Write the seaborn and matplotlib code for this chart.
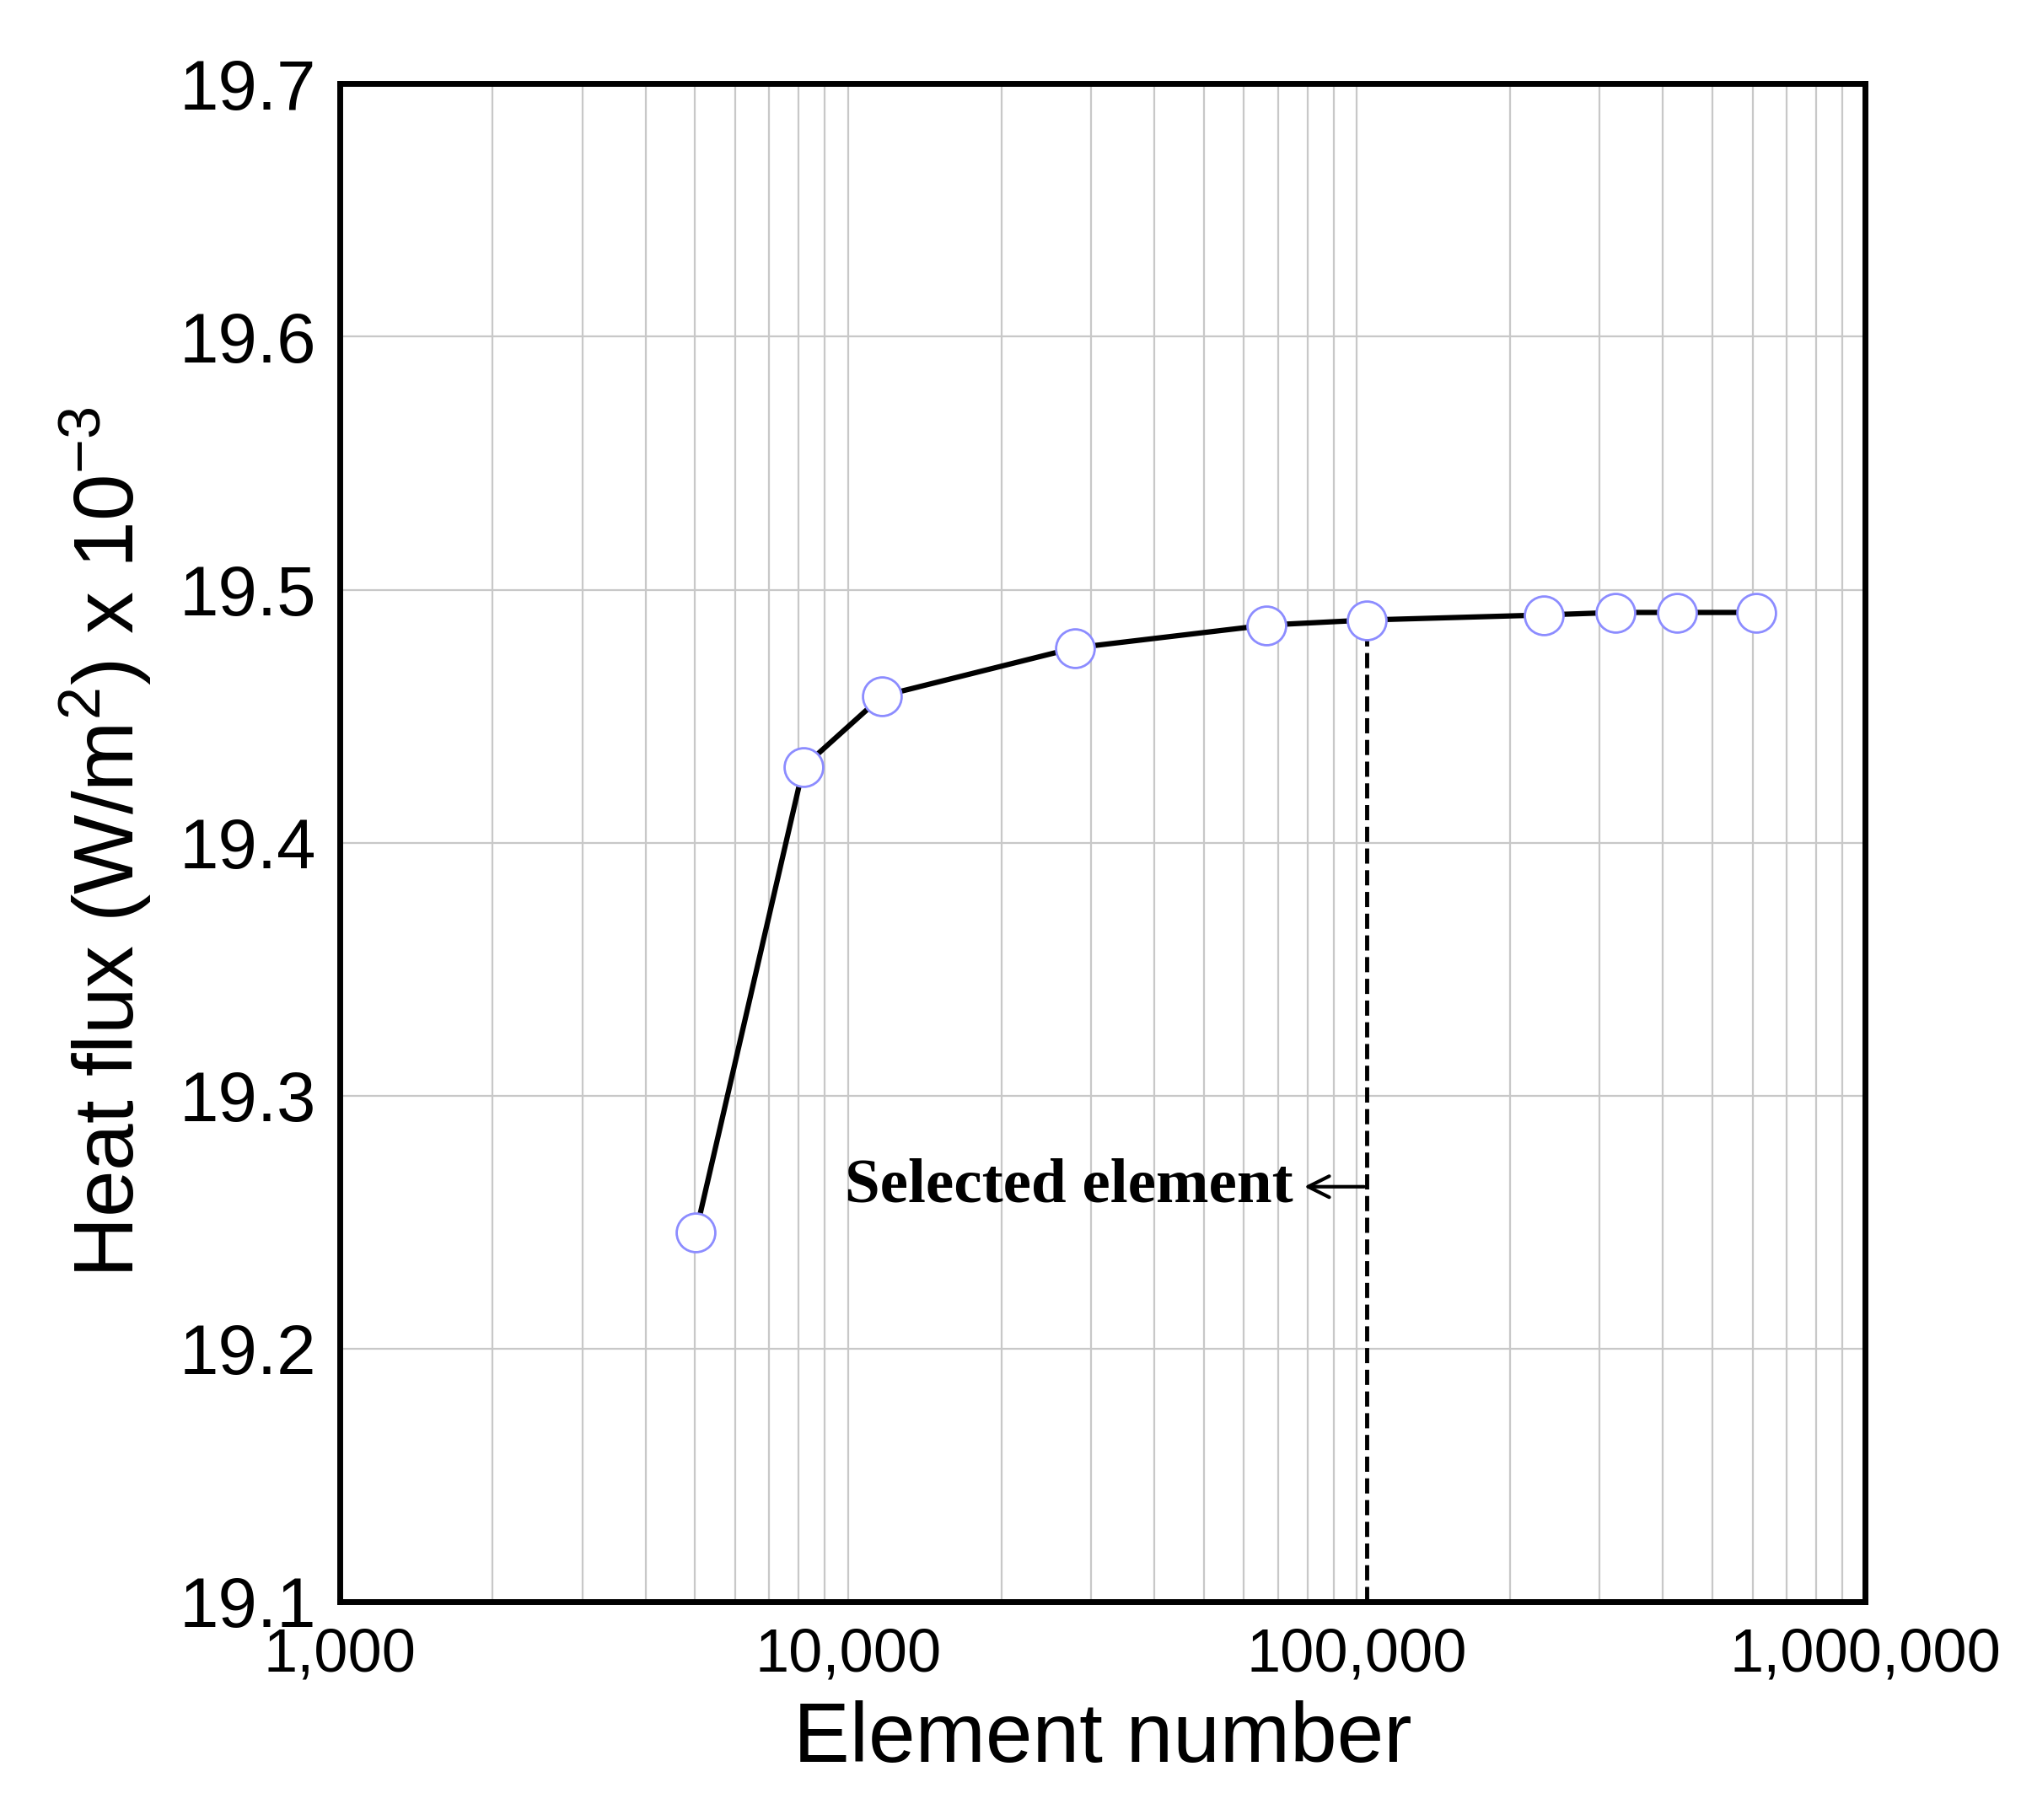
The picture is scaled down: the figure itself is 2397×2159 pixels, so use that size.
import numpy as np
import pandas as pd
import matplotlib
matplotlib.use("Agg")
import matplotlib.pyplot as plt
import seaborn as sns
from matplotlib.ticker import FuncFormatter, LogLocator, NullFormatter

# values
elements = [5020, 8170, 11670, 27900, 66500, 104500, 233000, 322000, 427000, 611000]
heat_flux = [19.246, 19.430, 19.458, 19.477, 19.486, 19.488, 19.490, 19.491, 19.491, 19.491]
selected = 104500
selected_flux = 19.488

df = pd.DataFrame({"elements": elements, "flux": heat_flux})

sns.set_style("white")
plt.rcParams["font.family"] = ["Liberation Sans", "DejaVu Sans"]
plt.rcParams["text.color"] = "black"
plt.rcParams["axes.labelcolor"] = "black"
plt.rcParams["xtick.color"] = "black"
plt.rcParams["ytick.color"] = "black"

fig = plt.figure(figsize=(23.97, 21.59), dpi=100)
ax = fig.add_axes([0.168, 0.12, 0.755, 0.834])

sns.lineplot(data=df, x="elements", y="flux", ax=ax, color="black", linewidth=4.5,
             marker="o", markersize=33, markerfacecolor="white",
             markeredgecolor="#8c8cff", markeredgewidth=2)

ax.set_xscale("log")
ax.set_xlim(1000, 1e6)
ax.set_ylim(19.1, 19.7)
ax.set_yticks(np.arange(19.1, 19.71, 0.1))
ax.yaxis.set_major_formatter(FuncFormatter(lambda v, p: f"{v:.1f}"))
ax.xaxis.set_major_locator(LogLocator(base=10, numticks=10))
ax.xaxis.set_minor_locator(LogLocator(base=10, subs=np.arange(2, 10), numticks=20))
ax.xaxis.set_minor_formatter(NullFormatter())
ax.xaxis.set_major_formatter(FuncFormatter(lambda v, p: f"{int(round(v)):,}"))

ax.grid(True, which="both", axis="x", color="#c8c8c8", linewidth=1.6)
ax.grid(True, which="major", axis="y", color="#c8c8c8", linewidth=1.6)
ax.set_axisbelow(True)
for s in ax.spines.values():
    s.set_linewidth(5)
    s.set_color("black")

ax.tick_params(axis="y", labelsize=60, pad=20, length=0)
ax.tick_params(axis="x", labelsize=52, pad=22, length=0)
ax.set_xlabel("Element number", fontsize=72, labelpad=14)
ax.set_ylabel(r"Heat flux (W/m$^{\mathregular{2}}$) x 10$^{\mathregular{-3}}$", fontsize=72, labelpad=22)

ax.plot([selected, selected], [19.1, selected_flux], color="black", linestyle="--", linewidth=3.5, zorder=1)
ax.annotate("", xy=(78000, 19.264), xytext=(selected, 19.264),
            arrowprops=dict(arrowstyle="->", color="black", lw=3, mutation_scale=45))
ax.text(75000, 19.264, "Selected element", ha="right", va="center", fontsize=54,
        fontweight="bold", family=["Liberation Serif", "DejaVu Serif"])

fig.savefig("out.png", dpi=100)
